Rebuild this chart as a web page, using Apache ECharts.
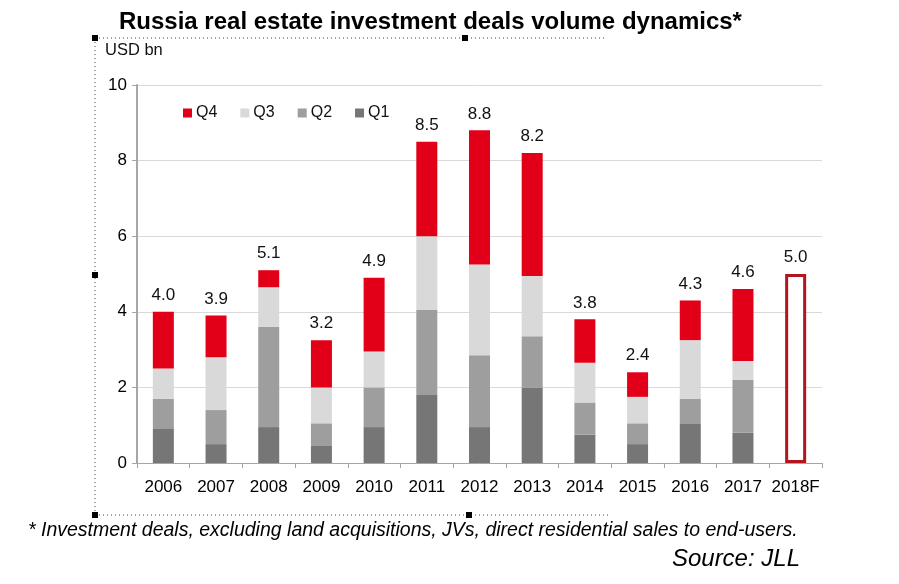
<!DOCTYPE html>
<html>
<head>
<meta charset="utf-8">
<script src="https://cdn.jsdelivr.net/npm/echarts@6/dist/echarts.min.js"></script>
<style>
  html, body { margin: 0; padding: 0; background: #fff; }
  #chart { width: 899px; height: 584px; }
</style>
</head>
<body>
<div id="chart"></div>
<script>
const years = ['2006', '2007', '2008', '2009', '2010', '2011', '2012', '2013', '2014', '2015', '2016', '2017', '2018F']
const q1 = [0.9, 0.5, 0.95, 0.45, 0.95, 1.8, 0.95, 2.0, 0.75, 0.5, 1.05, 0.8, null]
const q2 = [0.8, 0.9, 2.65, 0.6, 1.05, 2.25, 1.9, 1.35, 0.85, 0.55, 0.65, 1.4, null]
const q3 = [0.8, 1.4, 1.05, 0.95, 0.95, 1.95, 2.4, 1.6, 1.05, 0.7, 1.55, 0.5, null]
const q4 = [1.5, 1.1, 0.45, 1.25, 1.95, 2.5, 3.55, 3.25, 1.15, 0.65, 1.05, 1.9, null]
const forecast = [null, null, null, null, null, null, null, null, null, null, null, null, 5.0]
const totals = ['4.0', '3.9', '5.1', '3.2', '4.9', '8.5', '8.8', '8.2', '3.8', '2.4', '4.3', '4.6', '5.0']

const font = 'Liberation Sans, Arial, sans-serif'
const chart = echarts.init(document.getElementById('chart'))

const totalLabel = {
  show: true,
  position: 'top',
  distance: 8,
  fontFamily: font,
  fontSize: 17,
  color: '#111',
  formatter: p => totals[p.dataIndex]
}

function bar(name, data, color, withLabel) {
  return {
    name: name,
    type: 'bar',
    stack: 'total',
    barWidth: 21,
    data: data,
    itemStyle: { color: color },
    label: withLabel ? totalLabel : { show: false },
    emphasis: { disabled: true }
  }
}

const dot = { stroke: '#444', lineWidth: 1, lineDash: [1, 3] }
const square = (x, y) => ({ type: 'rect', shape: { x: x, y: y, width: 6, height: 6 }, style: { fill: '#000' } })

const option = {
  animation: false,
  backgroundColor: '#fff',
  title: {
    text: 'Russia real estate investment deals volume dynamics*',
    left: 114,
    top: 5,
    textStyle: { fontFamily: font, fontSize: 24, fontWeight: 'bold', color: '#000' }
  },
  legend: {
    data: ['Q4', 'Q3', 'Q2', 'Q1'],
    left: 178,
    top: 100,
    icon: 'rect',
    itemWidth: 9,
    itemHeight: 9,
    itemGap: 23,
    textStyle: { fontFamily: font, fontSize: 16, color: '#111', padding: [0, 0, 0, -1] }
  },
  grid: { left: 137, right: 77, top: 85, bottom: 121, containLabel: false },
  xAxis: {
    type: 'category',
    data: years,
    axisLine: { lineStyle: { color: '#a6a6a6', width: 1 } },
    axisTick: { show: true, length: 5, lineStyle: { color: '#a6a6a6' } },
    axisLabel: { interval: 0, fontFamily: font, fontSize: 17, color: '#000', margin: 16 }
  },
  yAxis: {
    type: 'value',
    min: 0,
    max: 10,
    interval: 2,
    axisLine: { show: true, lineStyle: { color: '#a6a6a6', width: 2 } },
    axisTick: { show: true, length: 5, lineStyle: { color: '#a6a6a6' } },
    axisLabel: { fontFamily: font, fontSize: 17, color: '#000', margin: 10 },
    splitLine: { lineStyle: { color: '#d9d9d9', width: 1 } }
  },
  series: [
    bar('Q1', q1, '#767676', false),
    bar('Q2', q2, '#9e9e9e', false),
    bar('Q3', q3, '#d9d9d9', false),
    bar('Q4', q4, '#e10017', true),
    {
      name: 'Forecast',
      type: 'bar',
      stack: 'total',
      barWidth: 19,
      data: forecast,
      itemStyle: { color: '#fff', borderColor: '#b3141e', borderWidth: 3 },
      label: totalLabel,
      emphasis: { disabled: true }
    }
  ],
  graphic: [
    { type: 'line', shape: { x1: 95, y1: 38, x2: 606, y2: 38 }, style: dot, silent: true },
    { type: 'line', shape: { x1: 95, y1: 38, x2: 95, y2: 515 }, style: dot, silent: true },
    { type: 'line', shape: { x1: 95, y1: 515, x2: 610, y2: 515 }, style: dot, silent: true },
    square(92, 35),
    square(462, 35),
    square(92, 272),
    square(92, 512),
    square(466, 512),
    {
      type: 'text', left: 105, top: 42,
      style: { text: 'USD bn', fontFamily: font, fontSize: 16.5, fill: '#111' }
    },
    {
      type: 'text', left: 28, top: 521,
      style: {
        text: '* Investment deals, excluding land acquisitions, JVs, direct residential sales to end-users.',
        fontFamily: 'Liberation Sans Narrow, Liberation Sans, Arial, sans-serif',
        fontStyle: 'italic', fontSize: 19.5, fill: '#000'
      }
    },
    {
      type: 'text', right: 99, top: 547,
      style: {
        text: 'Source: JLL',
        fontFamily: 'Liberation Sans Narrow, Liberation Sans, Arial, sans-serif',
        fontStyle: 'italic', fontSize: 24, fill: '#000'
      }
    }
  ]
}

chart.setOption(option)
</script>
</body>
</html>
